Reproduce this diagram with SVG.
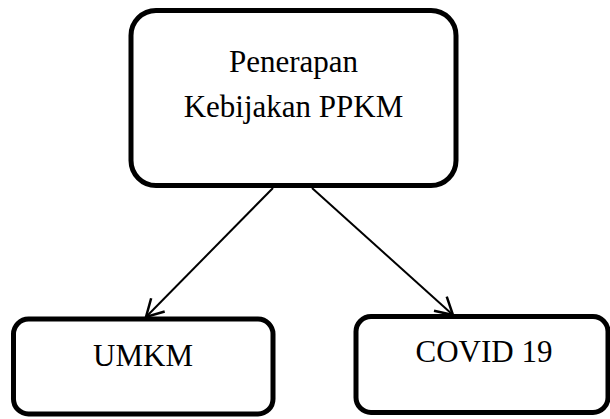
<svg xmlns="http://www.w3.org/2000/svg" width="610" height="419" viewBox="0 0 610 419">
<style>
.box{fill:#fff;stroke:#000;stroke-width:5}
.lbl{font-family:"Liberation Serif","Times New Roman",serif;font-size:31px;fill:#000;text-anchor:middle}
.conn{stroke:#000;stroke-width:2;fill:none}
</style>
<defs>
<marker id="arr" markerUnits="userSpaceOnUse" markerWidth="30" markerHeight="30" viewBox="-20 -15 30 30" refX="0" refY="0" orient="auto">
<path d="M-17,-9.5 L0,0 L-17,9.5" fill="none" stroke="#000" stroke-width="2.5"/>
</marker>
</defs>
<rect width="610" height="419" fill="#fff"/>
<g id="node-ppkm">
<rect class="box" x="131" y="10.5" width="325" height="175" rx="25" ry="25"/>
<text class="lbl" x="293.5" y="72">Penerapan</text>
<text class="lbl" x="293.5" y="117">Kebijakan PPKM</text>
</g>
<g id="node-umkm">
<rect class="box" x="13.5" y="319" width="259.5" height="95" rx="15" ry="15"/>
<text class="lbl" x="143" y="366">UMKM</text>
</g>
<g id="node-covid">
<rect class="box" x="356" y="316.5" width="252" height="96" rx="15" ry="15"/>
<text class="lbl" x="484" y="362">COVID 19</text>
</g>
<g id="connectors">
<line class="conn" x1="273" y1="188" x2="146" y2="317" marker-end="url(#arr)"/>
<line class="conn" x1="312" y1="188" x2="453" y2="315" marker-end="url(#arr)"/>
</g>
</svg>
